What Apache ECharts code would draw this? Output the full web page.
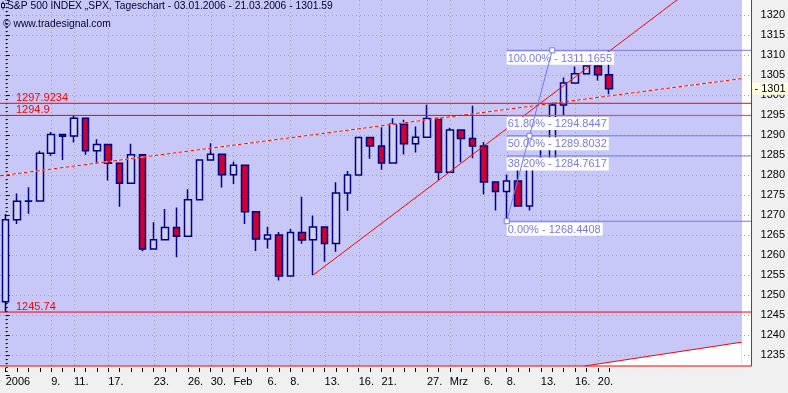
<!DOCTYPE html>
<html><head><meta charset="utf-8">
<script src="https://cdn.jsdelivr.net/npm/echarts@6/dist/echarts.min.js"></script>
<style>html,body{margin:0;padding:0;background:#F0F0F0}#c{width:788px;height:393px}</style>
</head><body><div id="c"></div>
<script>
// ---------- data ----------
const dates = ['03.01','04.01','05.01','06.01','09.01','10.01','11.01','12.01','13.01','17.01','18.01','19.01','20.01','23.01','24.01','25.01','26.01','27.01','30.01','31.01',
 '01.02','02.02','03.02','06.02','07.02','08.02','09.02','10.02','13.02','14.02','15.02','16.02','17.02','21.02','22.02','23.02','24.02','27.02','28.02',
 '01.03','02.03','03.03','06.03','07.03','08.03','09.03','10.03','13.03','14.03','15.03','16.03','17.03','20.03','21.03'];
const tickLabels = ['2006','','','','9.','','11.','','','17.','','','','23.','','','26.','','30.','',
 'Feb','','','6.','','8.','','','13.','','','16.','','21.','','','','27.','',
 'Mrz','','','6.','','8.','','','13.','','','16.','','20.',''];
const openP  = [1248.29,1268.80,1273.46,1273.48,1285.45,1290.15,1289.72,1294.18,1286.06,1287.61,1282.93,1277.93,1285.04,1261.49,1263.82,1266.86,1264.68,1273.83,1283.72,1285.20,
 1280.08,1282.46,1270.84,1264.03,1265.02,1254.78,1265.65,1263.82,1266.99,1262.86,1275.53,1280.00,1289.38,1287.24,1283.03,1292.67,1287.79,1289.43,1294.12,
 1280.66,1291.24,1289.14,1287.23,1278.26,1275.88,1278.47,1272.23,1281.58,1284.13,1297.48,1303.02,1305.33,1307.25,1305.08];
const highP  = [1270.22,1275.37,1276.91,1286.09,1290.78,1290.15,1294.90,1294.18,1288.96,1287.61,1282.93,1287.79,1285.04,1268.19,1271.47,1271.87,1276.44,1283.90,1287.94,1285.20,
 1283.33,1282.46,1270.87,1267.04,1265.78,1266.47,1274.56,1269.89,1266.99,1278.17,1281.00,1289.39,1289.47,1291.92,1294.17,1293.84,1292.11,1297.57,1294.12,
 1291.80,1291.24,1297.33,1288.23,1278.26,1280.11,1282.74,1284.37,1287.37,1298.14,1304.40,1307.10,1307.30,1307.25,1311.17];
const lowP   = [1245.74,1267.74,1270.30,1273.48,1284.82,1283.76,1288.12,1285.04,1282.78,1278.61,1272.08,1277.93,1260.92,1261.49,1263.82,1259.42,1264.68,1273.83,1283.72,1276.85,
 1277.73,1267.72,1261.02,1261.62,1253.61,1254.78,1262.80,1254.98,1258.34,1260.80,1271.06,1280.00,1284.07,1281.33,1283.03,1285.14,1285.62,1289.43,1278.66,
 1280.66,1283.21,1284.20,1275.10,1271.11,1268.44,1272.20,1271.11,1281.58,1282.67,1294.97,1303.02,1305.33,1303.62,1300.20];
const closeP = [1268.80,1273.46,1273.48,1285.45,1290.15,1289.69,1294.18,1286.06,1287.61,1282.93,1277.93,1285.04,1261.49,1263.82,1266.86,1264.68,1273.83,1283.72,1285.19,1280.08,
 1282.46,1270.84,1264.03,1265.02,1254.78,1265.65,1263.78,1266.99,1262.86,1275.53,1280.00,1289.38,1287.24,1283.03,1292.67,1287.79,1289.43,1294.12,1280.66,
 1291.24,1289.14,1287.23,1278.26,1275.88,1278.47,1272.23,1281.42,1284.13,1297.48,1303.02,1305.33,1307.25,1305.08,1301.59];
const lastPrice = 1301.59;
const hLineValues = [1297.9234, 1294.9, 1245.74];
const hLineLabels = ['1297.9234', '1294.9', '1245.74'];
const fibLevels = [100, 61.8, 50, 38.2, 0];
const fibPrices = [1311.1655, 1294.8447, 1289.8032, 1284.7617, 1268.4408];
const fibStartIdx = 44, fibEndIdx = 48;
const trendDashed = [[-0.5, 1279.8], [64.62, 1304.1]];
const trendUp = [[27, 1254.98], [59.5, 1324.94]];
const trendLow = [[50.85, 1232.25], [64.62, 1238.2]];
const yScale = {min: 1230, max: 1323.75, step: 5, plotBottom: 1232.25};

// ---------- build ----------
const SLOTS = 66;
const XMIN = -0.5, XMAX = SLOTS - 0.5;
const cats = [];
for (let i = 0; i < SLOTS; i++) cats.push(i < tickLabels.length ? tickLabels[i] : '');
const candleData = dates.map((d, i) => [openP[i], closeP[i], lowP[i], highP[i]]);
const labelIdx = tickLabels.map((t, i) => t ? i : -1).filter(i => i >= 0);
const FONT = '"Liberation Sans", Arial, sans-serif';
const FIB = '#7878F0';
const GRIDC = '#9C9CB8';
const RED = '#FF0000';
const fibLo = fibPrices[fibLevels.indexOf(0)], fibHi = fibPrices[fibLevels.indexOf(100)], fibMid = (fibLo + fibHi) / 2;
const YB = yScale.plotBottom, YT = yScale.max;
const NOLINE = {color: 'rgba(0,0,0,0)', width: 1};

function seg(data, color, z, extra) {
  return Object.assign({type: 'line', xAxisIndex: 1, yAxisIndex: 0, data: data, symbol: 'none', silent: true, z: z,
    animation: false, lineStyle: {color: color, width: 1, type: 'solid', opacity: 1}, itemStyle: {color: color}}, extra || {});
}

const series = [];
// vertical dotted grid lines at the labelled dates (custom series, pixel-snapped)
series.push({
  type: 'custom', xAxisIndex: 1, yAxisIndex: 0, z: 2, silent: true, animation: false, clip: false,
  encode: {x: 0, y: 1},
  data: labelIdx.map(i => [i, YB]),
  renderItem: function (params, api) {
    const p0 = api.coord([api.value(0), YB]);
    const p1 = api.coord([api.value(0), YT]);
    const x = Math.round(p0[0]) + 0.5;
    return {type: 'line', shape: {x1: x, y1: p1[1], x2: x, y2: p0[1]},
      style: {stroke: GRIDC, lineWidth: 1, lineDash: [1, 3], fill: null}};
  }
});
series.push({
  type: 'candlestick', name: 'SPX', xAxisIndex: 0, yAxisIndex: 0, data: candleData, barWidth: 7, z: 2,
  itemStyle: {color: '#D0D0F0', color0: '#CC0033', borderColor: '#000080', borderColor0: '#000080', borderWidth: 1.5}
});
series.push(seg(trendDashed, '#FFFFFF', 3));
series.push(seg(trendDashed, RED, 3, {lineStyle: {color: RED, width: 1, type: [4, 2]}}));
series.push(seg(trendUp, RED, 3));
series.push(seg(trendLow, RED, 3, {areaStyle: {color: '#FFFFFF', opacity: 1, origin: YB}}));
hLineValues.forEach(v => series.push(seg([[XMIN, v], [XMAX, v]], RED, 4, {clip: false})));
fibPrices.forEach(p => series.push(seg([[fibStartIdx, p], [XMAX, p]], FIB, 5, {clip: false})));
// text labels attached to the lines (marker labels, marker lines transparent)
series.push({
  type: 'line', xAxisIndex: 1, data: [], silent: true, clip: false,
  markLine: {z: 6, silent: true, symbol: 'none', lineStyle: NOLINE,
    label: {show: true, fontSize: 11, fontFamily: FONT},
    data: hLineValues.map((v, k) => [
      {coord: [XMIN, v], name: hLineLabels[k], lineStyle: NOLINE,
       label: {show: true, position: 'insideStartTop', distance: [16, 0], formatter: '{b}', color: RED, fontSize: 11, fontFamily: FONT}},
      {coord: [XMAX, v]}]).concat(
      fibPrices.map((p, k) => [
      {coord: [fibStartIdx, p], name: fibLevels[k].toFixed(2) + '% - ' + p.toFixed(4), lineStyle: NOLINE,
       label: {show: true, position: 'insideStartBottom', distance: [0, 1.5], formatter: '{b}', color: FIB, fontSize: 11,
         fontFamily: FONT, backgroundColor: '#FFFFFF', padding: [1, 2, 0, 1], lineHeight: 12}},
      {coord: [XMAX, p]}])).concat([
      {yAxis: lastPrice, lineStyle: NOLINE,
       label: {show: true, position: 'end', distance: 0, formatter: '- ' + Math.floor(lastPrice),
         color: '#000', fontSize: 11, fontFamily: FONT, backgroundColor: '#FFFFE1', padding: [0, 3, 0, 3], lineHeight: 12}}])
  }
});
series.push({
  type: 'line', xAxisIndex: 1, z: 8, silent: true,
  data: [[fibStartIdx, fibLo], [(fibStartIdx + fibEndIdx) / 2, fibMid], [fibEndIdx, fibHi]],
  symbol: 'rect', symbolSize: 5, showSymbol: true,
  lineStyle: {color: FIB, width: 1},
  itemStyle: {color: '#FFFFFF', borderColor: FIB, borderWidth: 1}
});
series.push(seg([[XMAX, YB], [XMAX, YT]], RED, 9, {clip: false}));
series.push(seg([[XMIN, YB], [XMAX, YB]], RED, 9, {clip: false}));

const chart = echarts.init(document.getElementById('c'), null, {renderer: 'canvas'});
chart.setOption({
  animation: false,
  backgroundColor: '#F0F0F0',
  title: [
    {text: 'S&P 500 INDEX \u201ESPX, Tageschart - 03.01.2006 - 21.03.2006 - 1301.59', left: 7, top: 1, padding: 0,
     textStyle: {fontSize: 10.3, fontWeight: 'normal', color: '#000033', fontFamily: FONT}},
    {text: '\u00A9 www.tradesignal.com', left: 3, top: 19, padding: 0,
     textStyle: {fontSize: 10.3, fontWeight: 'normal', color: '#000033', fontFamily: FONT}}
  ],
  graphic: [
    {type: 'rect', z: -10, silent: true, shape: {x: 0, y: 0, width: 742, height: 366}, style: {fill: '#C8C8F8'}},
    {type: 'rect', z: -10, silent: true, shape: {x: 742, y: 0, width: 10, height: 366}, style: {fill: '#FFFFFF'}},
    {type: 'rect', z: 10, silent: true, shape: {x: 1.5, y: 3.5, width: 3, height: 4}, style: {fill: 'none', stroke: '#000033', lineWidth: 1}},
    {type: 'line', z: 10, silent: true, shape: {x1: 3, y1: 1.5, x2: 3, y2: 3.5}, style: {stroke: '#000033', lineWidth: 1}},
    {type: 'line', z: 10, silent: true, shape: {x1: 3, y1: 7.5, x2: 3, y2: 9.5}, style: {stroke: '#000033', lineWidth: 1}}
  ],
  grid: {left: 0, right: 36, top: 0, height: 375},
  xAxis: [
    {type: 'category', data: cats, boundaryGap: true, position: 'bottom', offset: -7,
     axisLine: {show: false},
     axisTick: {show: true, alignWithLabel: true, interval: (i) => i < dates.length, length: 4, lineStyle: {color: '#000'}},
     axisLabel: {interval: 0, align: 'left', margin: 8, fontSize: 11, color: '#000', fontFamily: FONT},
     splitLine: {show: false}},
    {type: 'value', min: XMIN, max: XMAX, show: false}
  ],
  yAxis: {
    type: 'value', position: 'right', min: yScale.min, max: yScale.max, interval: yScale.step, offset: 3,
    axisLine: {show: false},
    axisTick: {show: true, length: 4, lineStyle: {color: '#000'}},
    minorTick: {show: true, splitNumber: 5, length: 2, lineStyle: {color: '#000'}},
    axisLabel: {margin: 6, fontSize: 11, color: '#000', fontFamily: FONT, showMaxLabel: false,
      formatter: v => (v < 1235 || v > 1320) ? '' : String(v)},
    splitLine: {show: true, showMinLine: false, showMaxLine: false, lineStyle: {color: GRIDC, type: [1, 3], width: 1}}
  },
  series: series
});
</script>
</body></html>
